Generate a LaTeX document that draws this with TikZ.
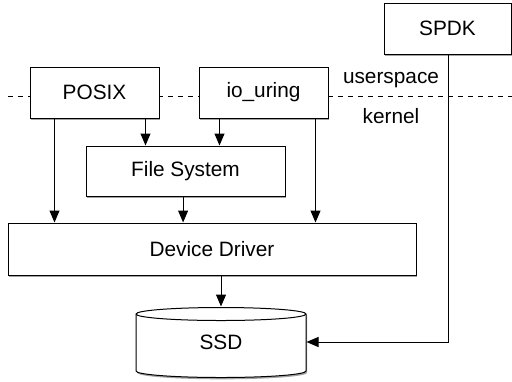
\documentclass[tikz,border=0pt]{standalone}
\usepackage{fontspec}
\setmainfont{Liberation Sans}
\usetikzlibrary{arrows.meta,shadows}
\begin{document}
\begin{tikzpicture}[x=0.5pt, y=0.5pt, line width=0.5pt,
    font=\fontsize{10.4}{12}\selectfont,
    shade/.style={drop shadow={shadow xshift=0.6pt, shadow yshift=-0.9pt, fill=black!60, opacity=0.6}},
    box/.style={draw, fill=white, shade, inner sep=0pt, minimum height=25.5pt},
    arr/.style={-{Triangle[length=6pt,width=5pt]}}]
    \useasboundingbox (0,0) rectangle (512,-381);
    % userspace / kernel border
    \draw[dash pattern=on 2.5pt off 2.5pt] (8,-96) -- (512,-96);
    \node (user) at (391,-80) {userspace};
    \node (kern) at (391,-116) {kernel};
    % boxes
    \node[box, minimum width=63.5pt] (spdk) at (447.5,-28.5) {SPDK};
    \node[box, minimum width=64.5pt] (posix) at (94.5,-92.5) {POSIX};
    \node[box, minimum width=64.5pt] (iouring) at (263.5,-92.5) {io\_uring};
    \node[box, minimum width=99.5pt, minimum height=25pt] (fs) at (185.5,-171) {File System};
    \node[box, minimum width=204pt, minimum height=26pt] (dd) at (212,-249) {Device Driver};
    % disk
    \draw[fill=white, shade] (136,-314) -- (136,-371)
        arc[start angle=180, end angle=360, x radius=85, y radius=6.5] -- (306,-314)
        arc[start angle=0, end angle=180, x radius=85, y radius=6.5] -- cycle;
    \draw (136,-314) arc[start angle=180, end angle=360, x radius=85, y radius=6.5];
    \node[minimum width=85pt, minimum height=35pt, inner sep=0pt] (ssd) at (221,-342) {SSD};
    % arrows
    \draw[arr] ([xshift=-7pt]posix.south east) -- ([xshift=-7pt]posix.south east |- fs.north);
    \draw[arr] ([xshift=10.5pt]iouring.south west) -- ([xshift=10.5pt]iouring.south west |- fs.north);
    \draw[arr] ([xshift=12.5pt]posix.south west) -- ([xshift=12.5pt]posix.south west |- dd.north);
    \draw[arr] ([xshift=-6.5pt]iouring.south east) -- ([xshift=-6.5pt]iouring.south east |- dd.north);
    \draw[arr] ([xshift=-1.2pt]fs.south) -- ([xshift=-1.2pt]fs.south |- dd.north);
    \draw[arr] (dd.south -| ssd.north) -- (ssd.north);
    \draw[arr] ([xshift=0.7pt]spdk.south) |- (ssd.east);
\end{tikzpicture}
\end{document}
